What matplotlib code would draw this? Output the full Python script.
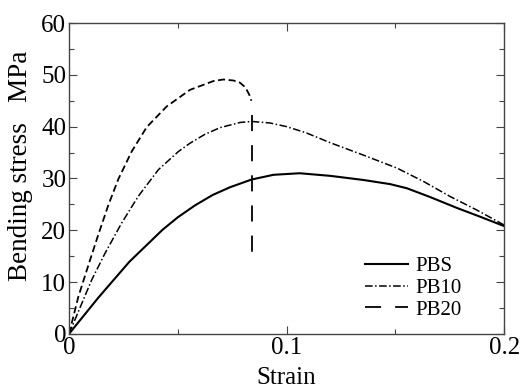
import matplotlib
matplotlib.use("Agg")
import matplotlib.pyplot as plt
from matplotlib.ticker import MultipleLocator

plt.rcParams['font.family'] = ['Liberation Serif', 'DejaVu Serif']

# values
pbs_strain = [0, 0.0135, 0.0277, 0.043, 0.05, 0.0579, 0.066, 0.074, 0.084,
              0.094, 0.106, 0.12, 0.1353, 0.1476, 0.1553, 0.166, 0.1783,
              0.189, 0.2]
pbs_stress = [0, 7.0, 13.9, 20.1, 22.5, 24.8, 26.8, 28.3, 29.8,
              30.7, 31.0, 30.5, 29.7, 28.9, 28.1, 26.4, 24.3,
              22.6, 20.8]

pb10_strain = [0, 0.0104, 0.0166, 0.0242, 0.0319, 0.0411, 0.0503, 0.0556,
               0.0624, 0.0694, 0.0786, 0.084, 0.0924, 0.1, 0.109, 0.12,
               0.1353, 0.1507, 0.163, 0.1752, 0.1874, 0.2]
pb10_stress = [0, 10.4, 15.6, 21.4, 26.6, 31.7, 35.2, 36.8,
               38.5, 39.8, 40.8, 41.0, 40.7, 40.0, 38.8, 36.9,
               34.5, 32.0, 29.4, 26.5, 23.9, 21.0]

pb20_strain = [0, 0.0043, 0.0097, 0.0135, 0.0181, 0.0227, 0.0288, 0.0357,
               0.0449, 0.0556, 0.0664, 0.071, 0.0756, 0.0785, 0.081,
               0.0828, 0.0838]
pb20_stress = [0, 7.2, 14.3, 19.2, 24.9, 29.9, 35.2, 39.9,
               43.9, 47.1, 48.8, 49.1, 48.9, 48.5, 47.6,
               46.2, 45.0]
# PB20 drops at the strain where it breaks
pb20_break = 0.0843
pb20_drop = [42.3, 15.2]

fig = plt.figure(figsize=(5.23, 3.9), dpi=100)
ax = fig.add_axes([0.132, 0.144, 0.832, 0.797])

ax.plot(pbs_strain, pbs_stress, color='black', lw=1.5, label='PBS')
ax.plot(pb10_strain, pb10_stress, color='black', lw=1.1,
        dashes=[5, 1.6, 1, 1.6], label='PB10')
ax.plot(pb20_strain, pb20_stress, color='black', lw=1.3, dashes=[3.9, 2.0])
ax.plot([pb20_break, pb20_break], pb20_drop, color='black', lw=1.3,
        dashes=[8.9, 7.8], label='PB20')

ax.set_xlim(0, 0.2)
ax.set_ylim(0, 60)
ax.set_xticks([0, 0.1, 0.2])
ax.set_xticklabels(['0', '0.1', '0.2'])
ax.xaxis.set_minor_locator(MultipleLocator(0.05))
ax.yaxis.set_major_locator(MultipleLocator(10))
ax.yaxis.set_minor_locator(MultipleLocator(5))
ax.tick_params(which='both', direction='in', top=True, right=True,
               labelsize=18, pad=2, width=0.8, color='#444444')
ax.tick_params(which='major', length=5.5)
ax.tick_params(which='minor', length=3.5)
for s in ax.spines.values():
    s.set_linewidth(1.0)
    s.set_color('#444444')

ax.set_xlabel('Strain', fontsize=18, labelpad=6)
ax.set_ylabel('Bending stress   MPa', fontsize=19.5)
ax.yaxis.set_label_coords(-0.083, 0.540)

ax.legend(loc='upper left', bbox_to_anchor=(0.68, 0.248), frameon=False,
          fontsize=15, handlelength=2.07, handletextpad=0.33,
          labelspacing=0.1, borderpad=0, borderaxespad=0)

fig.savefig('out.png', dpi=100)
